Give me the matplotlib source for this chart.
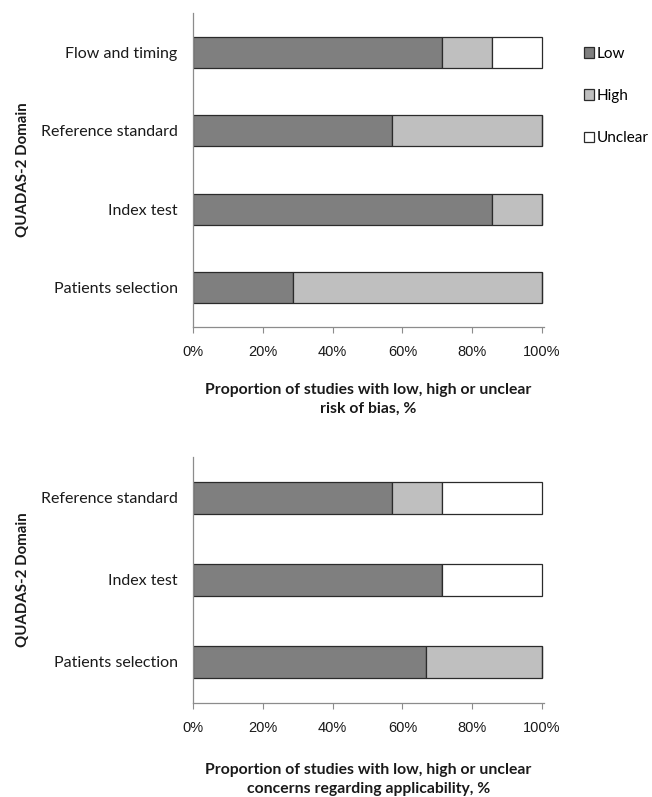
import matplotlib
matplotlib.use("Agg")
import matplotlib.pyplot as plt
from matplotlib.ticker import PercentFormatter

# Data (percent of studies)
bias_domains = ["Patients selection", "Index test", "Reference standard", "Flow and timing"]
bias_low = [28.6, 85.7, 57.1, 71.4]
bias_high = [71.4, 14.3, 42.9, 14.3]
bias_unclear = [0.0, 0.0, 0.0, 14.3]

appl_domains = ["Patients selection", "Index test", "Reference standard"]
appl_low = [66.7, 71.4, 57.1]
appl_high = [33.3, 0.0, 14.3]
appl_unclear = [0.0, 28.6, 28.6]

series_names = ["Low", "High", "Unclear"]
xticks = [0, 20, 40, 60, 80, 100]

colors = ["#7f7f7f", "#bfbfbf", "#ffffff"]
edge = "#2b2b2b"
spine_col = "#8c8c8c"
cat_font = "Lato"
tick_font = "Liberation Sans"

fig = plt.figure(figsize=(6.52, 7.97), dpi=100)
ax1 = fig.add_axes([0.296, 0.5897, 0.538, 0.394])
ax2 = fig.add_axes([0.296, 0.118, 0.538, 0.3086])


def draw(ax, domains, low, high, unclear, xlabel, pad):
    y = range(len(domains))
    left = [0] * len(domains)
    conts = []
    for vals, c, name in zip([low, high, unclear], colors, series_names):
        bc = ax.barh(y, vals, left=left, height=0.4, color=c, edgecolor=edge,
                     linewidth=0.9, label=name)
        conts.append(bc)
        left = [a + b for a, b in zip(left, vals)]
    ax.set_xlim(0, 100.5)
    ax.set_ylim(-0.5, len(domains) - 0.5)
    ax.set_yticks(list(y))
    ax.set_yticklabels(domains, family=cat_font, fontsize=11.5, color="#1a1a1a")
    ax.tick_params(axis="y", length=0, pad=11)
    ax.set_xticks(xticks)
    ax.xaxis.set_major_formatter(PercentFormatter(decimals=0))
    for lab in ax.get_xticklabels():
        lab.set_family(tick_font)
        lab.set_fontsize(10.5)
        lab.set_color("#1a1a1a")
    ax.tick_params(axis="x", length=4, width=0.8, color=spine_col, pad=9)
    for s in ["top", "right"]:
        ax.spines[s].set_visible(False)
    for s in ["left", "bottom"]:
        ax.spines[s].set_color(spine_col)
        ax.spines[s].set_linewidth(0.9)
    ax.set_xlabel(xlabel, family=cat_font, fontweight="bold", fontsize=11.3,
                  labelpad=pad, linespacing=1.5, color="#1a1a1a")
    ax.set_ylabel("QUADAS-2 Domain", family=cat_font, fontweight="bold",
                  fontsize=10.8, color="#1a1a1a")
    ax.yaxis.set_label_coords(-0.465, 0.5)
    return conts


conts = draw(ax1, bias_domains, bias_low, bias_high, bias_unclear,
             "Proportion of studies with low, high or unclear\nrisk of bias, %", 17)
draw(ax2, appl_domains, appl_low, appl_high, appl_unclear,
     "Proportion of studies with low, high or unclear\nconcerns regarding applicability, %", 20)

leg = fig.legend(handles=conts, labels=series_names, loc="upper left",
                 bbox_to_anchor=(0.886, 0.949), frameon=False,
                 prop={"family": cat_font, "size": 11},
                 handlelength=0.7, handleheight=0.7, handletextpad=0.15,
                 labelspacing=1.85, borderaxespad=0)

fig.savefig("out.png", dpi=100)
